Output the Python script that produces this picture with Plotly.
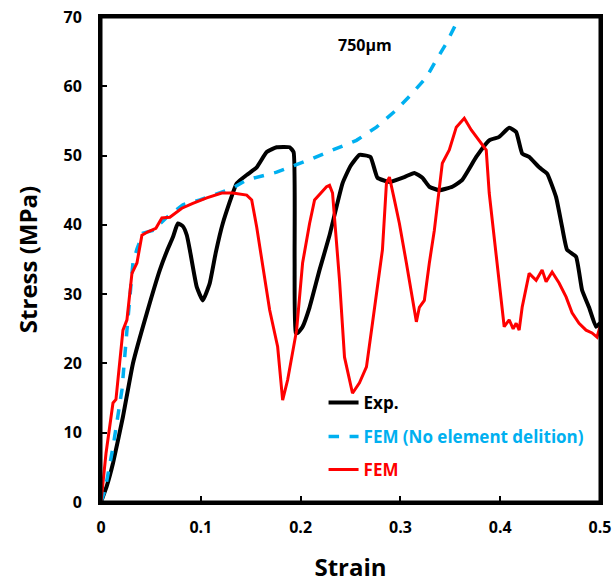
import plotly.graph_objects as go

# Experimental curve (Exp.)
exp_x = [0, 0.006, 0.012, 0.022, 0.032, 0.046, 0.059, 0.066, 0.072, 0.077, 0.082, 0.086, 0.089, 0.096, 0.102,
         0.109, 0.115, 0.122, 0.136, 0.146, 0.156, 0.166, 0.176, 0.189, 0.193, 0.194, 0.195, 0.197,
         0.202, 0.209, 0.219, 0.229, 0.242, 0.25, 0.259, 0.27, 0.277, 0.289, 0.304, 0.314, 0.322,
         0.329, 0.339, 0.352, 0.362, 0.376, 0.389, 0.399, 0.409, 0.416, 0.422, 0.429, 0.439, 0.447,
         0.456, 0.462, 0.467, 0.476, 0.482, 0.489, 0.496, 0.5]
exp_y = [0, 2.4, 5.6, 12.3, 20, 27.3, 33.5, 36.2, 38.2, 40.2, 39.8, 38.5, 36.4, 31, 29.1,
         31.6, 36, 40.2, 46, 47.2, 48.3, 50.5, 51.2, 51.2, 50.5, 35, 24.4, 24.4,
         25.3, 28.1, 33.5, 38.5, 46, 48.5, 50.1, 49.8, 46.8, 46.2, 46.9, 47.5, 46.8,
         45.5, 45, 45.5, 46.5, 49.8, 52.2, 52.7, 54, 53.4, 50.3, 49.8, 48.3, 47.4,
         44, 39.7, 36.4, 35.4, 30.6, 28.1, 25.3, 25.8]

# FEM without element deletion
blue_x = [0, 0.004, 0.012, 0.021, 0.026, 0.032, 0.036, 0.042, 0.052, 0.066, 0.082, 0.099, 0.132,
          0.146, 0.176, 0.209, 0.232, 0.256, 0.276, 0.296, 0.312, 0.326, 0.336, 0.346, 0.354,
          0.359, 0.364]
blue_y = [0, 1.7, 7.9, 16.2, 24.8, 34.5, 36.5, 38.8, 39.2, 41.1, 42.9, 43.6, 45.3,
          46.5, 47.6, 49.4, 50.8, 52.2, 54.1, 56.6, 59, 61.3, 63.8, 66.2, 68.5,
          70, 72]

# FEM
red_x = [0, 0.005, 0.012, 0.015, 0.022, 0.026, 0.031, 0.036, 0.041, 0.047, 0.055, 0.061, 0.069,
         0.081, 0.092, 0.106, 0.121, 0.132, 0.146, 0.151, 0.156, 0.161, 0.165, 0.169, 0.177,
         0.182, 0.187, 0.191, 0.196, 0.202, 0.209, 0.214, 0.226, 0.229, 0.232, 0.236, 0.239,
         0.244, 0.252, 0.259, 0.266, 0.272, 0.282, 0.286, 0.289, 0.294, 0.299, 0.306, 0.311,
         0.316, 0.319, 0.324, 0.329, 0.334, 0.342, 0.349, 0.356, 0.364, 0.371, 0.379, 0.386,
         0.389, 0.394, 0.399, 0.404, 0.409, 0.413, 0.416, 0.419, 0.422, 0.429, 0.436, 0.442,
         0.446, 0.452, 0.459, 0.466, 0.472, 0.479, 0.486, 0.492, 0.497, 0.5]
red_y = [0, 7, 14.3, 14.8, 24.8, 26.3, 33, 34.5, 38.5, 39, 39.5, 41, 41.1,
         42.4, 43.1, 43.9, 44.6, 44.6, 44.3, 43.6, 39.7, 34.9, 31, 27.7, 22.4,
         14.7, 17.6, 20.9, 24.8, 34.5, 40.2, 43.6, 45.5, 45.7, 44.6, 37.4, 32,
         20.9, 15.7, 17.2, 19.5, 25.8, 36.4, 46, 46.9, 43.6, 40.2, 34.5, 30.2,
         26, 28.1, 29.1, 34.5, 39.2, 48.9, 50.8, 54.1, 55.4, 53.7, 52.2, 50.8,
         44.6, 38.2, 32.5, 25.3, 26.3, 25, 25.8, 24.8, 28.1, 33, 32, 33.5,
         31.8, 33.2, 31.6, 29.6, 27.3, 25.8, 24.8, 24.4, 23.8, 25.3]

x_ticks = [0, 0.1, 0.2, 0.3, 0.4, 0.5]
x_tick_labels = ["0", "0.1", "0.2", "0.3", "0.4", "0.5"]
y_ticks = [0, 10, 20, 30, 40, 50, 60, 70]

FONT = "'Open Sans', 'Noto Sans', sans-serif"
BLUE = "#00B0F0"

fig = go.Figure()
fig.add_trace(go.Scatter(x=exp_x, y=exp_y, mode="lines", name="<b>Exp.</b>",
                         line=dict(color="black", width=4, shape="spline", smoothing=0.4), legend="legend"))
fig.add_trace(go.Scatter(x=blue_x, y=blue_y, mode="lines",
                         name="<b><span style='color:%s'>FEM (No element delition)</span></b>" % BLUE,
                         line=dict(color=BLUE, width=3.5, dash="dash"), legend="legend2"))
fig.add_trace(go.Scatter(x=red_x, y=red_y, mode="lines",
                         name="<b><span style='color:red'>FEM</span></b>",
                         line=dict(color="red", width=3), legend="legend3"))

leg_common = dict(xanchor="left", yanchor="middle", bgcolor="rgba(0,0,0,0)",
                  font=dict(family=FONT, size=17, color="black"), borderwidth=0)

fig.update_layout(
    width=615, height=586,
    margin=dict(l=101, r=15, t=17, b=84),
    paper_bgcolor="white", plot_bgcolor="white",
    font=dict(family=FONT, color="black"),
    showlegend=True,
    legend=dict(x=0.446, y=0.204, **leg_common),
    legend2=dict(x=0.446, y=0.134, **leg_common),
    legend3=dict(x=0.446, y=0.066, **leg_common),
    xaxis=dict(range=[0, 0.5], tickvals=x_ticks, ticktext=["<b>%s</b>" % t for t in x_tick_labels],
               ticks="inside", ticklen=6, tickwidth=1.5, tickcolor="black",
               showline=True, linecolor="black", linewidth=3, mirror=True,
               showgrid=False, zeroline=False, automargin=False, ticklabelstandoff=9,
               tickfont=dict(family=FONT, size=16, color="black"),
               title=dict(text="<b>Strain</b>", font=dict(family=FONT, size=24, color="black"), standoff=22)),
    yaxis=dict(range=[0, 70], tickvals=y_ticks, ticktext=["<b>%d</b>" % t for t in y_ticks],
               ticks="inside", ticklen=6, tickwidth=1.5, tickcolor="black",
               showline=True, linecolor="black", linewidth=3, mirror=True,
               showgrid=False, zeroline=False, automargin=False, ticklabelstandoff=13,
               tickfont=dict(family=FONT, size=16, color="black"),
               title=dict(text="<b>Stress (MPa)</b>", font=dict(family=FONT, size=24, color="black"), standoff=20)),
    shapes=[dict(type="rect", xref="paper", yref="paper", x0=0, x1=1, y0=0, y1=1,
                 line=dict(color="black", width=3), fillcolor="rgba(0,0,0,0)", layer="above")],
    annotations=[dict(x=0.265, y=66.0, xref="x", yref="y", text="<b>750µm</b>", showarrow=False,
                      font=dict(family=FONT, size=16, color="black"))],
)

fig.write_html("out.html", config={"displayModeBar": False},
               post_script="document.body.style.margin='0';document.body.style.padding='0';")
